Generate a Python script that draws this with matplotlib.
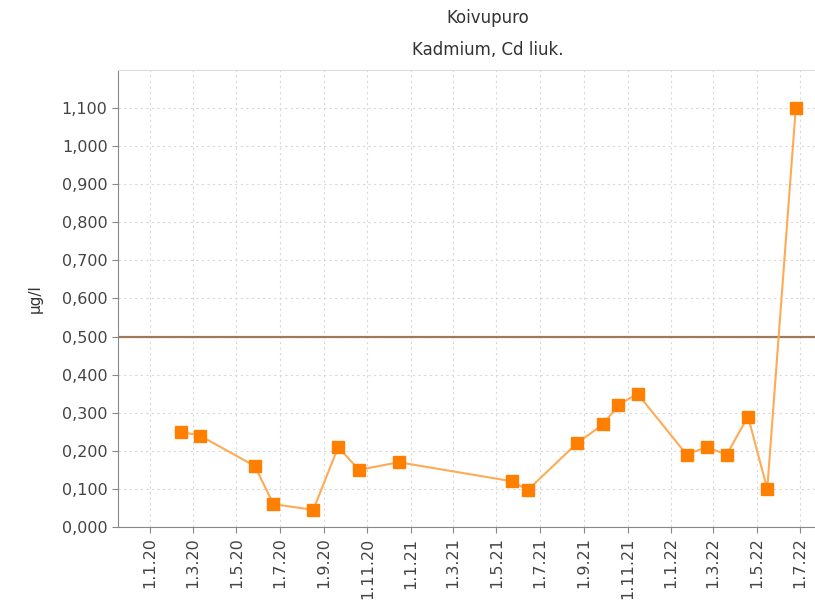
import matplotlib
matplotlib.use("Agg")
from matplotlib import pyplot as plt
import numpy as np

# sample dates and measured values (ug/l)
dates = np.array(["2020-02-13", "2020-03-11", "2020-05-27", "2020-06-22", "2020-08-17",
                  "2020-09-21", "2020-10-20", "2020-12-15", "2021-05-23", "2021-06-14",
                  "2021-08-22", "2021-09-28", "2021-10-19", "2021-11-15", "2022-01-23",
                  "2022-02-20", "2022-03-20", "2022-04-19", "2022-05-16", "2022-06-25"],
                 dtype="datetime64[D]")
values = [0.25, 0.24, 0.16, 0.06, 0.045, 0.21, 0.15, 0.17, 0.12, 0.097,
          0.22, 0.27, 0.32, 0.35, 0.19, 0.21, 0.19, 0.29, 0.10, 1.10]
limit = 0.5

tick_dates = np.arange(np.datetime64("2020-01"), np.datetime64("2022-08"), 2).astype("datetime64[D]")
y_ticks = np.arange(0, 1.15, 0.1)

fig = plt.figure(figsize=(8.15, 6.07), dpi=100)
ax = fig.add_axes([118/815, 1-527/607, 697/815, (527-70)/607])

ax.axhline(limit, color="#9c7a5a", lw=1.6, zorder=2)
ax.plot(dates, values, color="#ffaa55", lw=1.5, zorder=3)
ax.plot(dates, values, ls="none", marker="s", ms=8, color="#ff8000", zorder=4)

ax.set_xlim(np.datetime64("2019-11-17"), np.datetime64("2022-07-22"))
ax.set_ylim(0, 1.2)
ax.set_yticks(y_ticks)
ax.set_yticklabels([f"{v:.3f}".replace(".", ",") for v in y_ticks])
ax.set_xticks(tick_dates)
ax.set_xticklabels([f"1.{d.astype(object).month}.{d.astype(object).year % 100}" for d in tick_dates],
                   rotation=90)

ax.grid(True, color="#d8d8d8", ls=(0, (2, 3)), lw=0.8)
ax.set_axisbelow(True)
ax.spines["right"].set_visible(False)
for s in ["left", "bottom"]:
    ax.spines[s].set_color("#888888")
ax.spines["top"].set_color("#dddddd")
ax.tick_params(colors="#888888", labelcolor="#444444", labelsize=11.5, length=4)
ax.set_ylabel("µg/l", fontsize=11, color="#333333")
ax.yaxis.set_label_coords(-118/697 + 43/697, 0.5)

fig.text(488/815, 1-18/607, "Koivupuro", ha="center", va="center", fontsize=12, color="#333333")
fig.text(488/815, 1-50/607, "Kadmium, Cd liuk.", ha="center", va="center", fontsize=12, color="#333333")

fig.savefig("out.png", dpi=100)
